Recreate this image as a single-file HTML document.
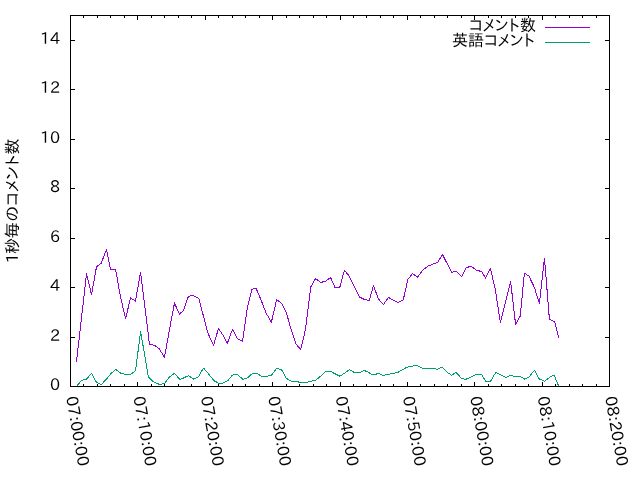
<!DOCTYPE html>
<html lang="ja"><head><meta charset="utf-8"><title>コメント数</title>
<style>
html,body{margin:0;padding:0;background:#fff;}
body{width:640px;height:480px;overflow:hidden;}
svg{display:block;}
svg text{font-family:"IPAPGothic","Liberation Sans","IPAGothic",sans-serif;font-size:16px;fill:#000;}
</style></head><body>
<svg width="640" height="480" viewBox="0 0 640 480">
<rect x="0" y="0" width="640" height="480" fill="#fff"/>
<g fill="#000" shape-rendering="crispEdges">
<rect x="70" y="15" width="540" height="1"/><rect x="70" y="386" width="540" height="1"/><rect x="70" y="15" width="1" height="372"/><rect x="609" y="15" width="1" height="372"/>
<rect x="70" y="386" width="5" height="1"/><rect x="605" y="386" width="5" height="1"/><rect x="70" y="337" width="5" height="1"/><rect x="605" y="337" width="5" height="1"/><rect x="70" y="287" width="5" height="1"/><rect x="605" y="287" width="5" height="1"/><rect x="70" y="238" width="5" height="1"/><rect x="605" y="238" width="5" height="1"/><rect x="70" y="188" width="5" height="1"/><rect x="605" y="188" width="5" height="1"/><rect x="70" y="139" width="5" height="1"/><rect x="605" y="139" width="5" height="1"/><rect x="70" y="89" width="5" height="1"/><rect x="605" y="89" width="5" height="1"/><rect x="70" y="40" width="5" height="1"/><rect x="605" y="40" width="5" height="1"/>
<rect x="70" y="382" width="1" height="5"/><rect x="70" y="15" width="1" height="5"/><rect x="83" y="384" width="1" height="3"/><rect x="83" y="15" width="1" height="3"/><rect x="97" y="384" width="1" height="3"/><rect x="97" y="15" width="1" height="3"/><rect x="110" y="384" width="1" height="3"/><rect x="110" y="15" width="1" height="3"/><rect x="124" y="384" width="1" height="3"/><rect x="124" y="15" width="1" height="3"/><rect x="137" y="382" width="1" height="5"/><rect x="137" y="15" width="1" height="5"/><rect x="151" y="384" width="1" height="3"/><rect x="151" y="15" width="1" height="3"/><rect x="164" y="384" width="1" height="3"/><rect x="164" y="15" width="1" height="3"/><rect x="178" y="384" width="1" height="3"/><rect x="178" y="15" width="1" height="3"/><rect x="191" y="384" width="1" height="3"/><rect x="191" y="15" width="1" height="3"/><rect x="205" y="382" width="1" height="5"/><rect x="205" y="15" width="1" height="5"/><rect x="218" y="384" width="1" height="3"/><rect x="218" y="15" width="1" height="3"/><rect x="232" y="384" width="1" height="3"/><rect x="232" y="15" width="1" height="3"/><rect x="245" y="384" width="1" height="3"/><rect x="245" y="15" width="1" height="3"/><rect x="259" y="384" width="1" height="3"/><rect x="259" y="15" width="1" height="3"/><rect x="272" y="382" width="1" height="5"/><rect x="272" y="15" width="1" height="5"/><rect x="286" y="384" width="1" height="3"/><rect x="286" y="15" width="1" height="3"/><rect x="299" y="384" width="1" height="3"/><rect x="299" y="15" width="1" height="3"/><rect x="313" y="384" width="1" height="3"/><rect x="313" y="15" width="1" height="3"/><rect x="326" y="384" width="1" height="3"/><rect x="326" y="15" width="1" height="3"/><rect x="340" y="382" width="1" height="5"/><rect x="340" y="15" width="1" height="5"/><rect x="353" y="384" width="1" height="3"/><rect x="353" y="15" width="1" height="3"/><rect x="366" y="384" width="1" height="3"/><rect x="366" y="15" width="1" height="3"/><rect x="380" y="384" width="1" height="3"/><rect x="380" y="15" width="1" height="3"/><rect x="393" y="384" width="1" height="3"/><rect x="393" y="15" width="1" height="3"/><rect x="407" y="382" width="1" height="5"/><rect x="407" y="15" width="1" height="5"/><rect x="420" y="384" width="1" height="3"/><rect x="420" y="15" width="1" height="3"/><rect x="434" y="384" width="1" height="3"/><rect x="434" y="15" width="1" height="3"/><rect x="447" y="384" width="1" height="3"/><rect x="447" y="15" width="1" height="3"/><rect x="461" y="384" width="1" height="3"/><rect x="461" y="15" width="1" height="3"/><rect x="474" y="382" width="1" height="5"/><rect x="474" y="15" width="1" height="5"/><rect x="488" y="384" width="1" height="3"/><rect x="488" y="15" width="1" height="3"/><rect x="501" y="384" width="1" height="3"/><rect x="501" y="15" width="1" height="3"/><rect x="515" y="384" width="1" height="3"/><rect x="515" y="15" width="1" height="3"/><rect x="528" y="384" width="1" height="3"/><rect x="528" y="15" width="1" height="3"/><rect x="542" y="382" width="1" height="5"/><rect x="542" y="15" width="1" height="5"/><rect x="555" y="384" width="1" height="3"/><rect x="555" y="15" width="1" height="3"/><rect x="569" y="384" width="1" height="3"/><rect x="569" y="15" width="1" height="3"/><rect x="582" y="384" width="1" height="3"/><rect x="582" y="15" width="1" height="3"/><rect x="596" y="384" width="1" height="3"/><rect x="596" y="15" width="1" height="3"/><rect x="609" y="382" width="1" height="5"/><rect x="609" y="15" width="1" height="5"/>
</g>
<g text-anchor="end">
<text x="60.2" y="390.05" textLength="10.08" lengthAdjust="spacingAndGlyphs">0</text><text x="60.2" y="341.05" textLength="10.08" lengthAdjust="spacingAndGlyphs">2</text><text x="60.2" y="291.05" textLength="10.08" lengthAdjust="spacingAndGlyphs">4</text><text x="60.2" y="242.05" textLength="10.08" lengthAdjust="spacingAndGlyphs">6</text><text x="60.2" y="192.05" textLength="10.08" lengthAdjust="spacingAndGlyphs">8</text><text x="60.2" y="143.05" textLength="20.16" lengthAdjust="spacingAndGlyphs">10</text><text x="60.2" y="93.05" textLength="20.16" lengthAdjust="spacingAndGlyphs">12</text><text x="60.2" y="44.05" textLength="20.16" lengthAdjust="spacingAndGlyphs">14</text>
</g>
<g>
<text transform="translate(65.9,397.3) rotate(80)" textLength="70.7" lengthAdjust="spacingAndGlyphs">07:00:00</text><text transform="translate(133.3,397.3) rotate(80)" textLength="70.7" lengthAdjust="spacingAndGlyphs">07:10:00</text><text transform="translate(200.7,397.3) rotate(80)" textLength="70.7" lengthAdjust="spacingAndGlyphs">07:20:00</text><text transform="translate(268.0,397.3) rotate(80)" textLength="70.7" lengthAdjust="spacingAndGlyphs">07:30:00</text><text transform="translate(335.4,397.3) rotate(80)" textLength="70.7" lengthAdjust="spacingAndGlyphs">07:40:00</text><text transform="translate(402.8,397.3) rotate(80)" textLength="70.7" lengthAdjust="spacingAndGlyphs">07:50:00</text><text transform="translate(470.1,397.3) rotate(80)" textLength="70.7" lengthAdjust="spacingAndGlyphs">08:00:00</text><text transform="translate(537.5,397.3) rotate(80)" textLength="70.7" lengthAdjust="spacingAndGlyphs">08:10:00</text><text transform="translate(604.9,397.3) rotate(80)" textLength="70.7" lengthAdjust="spacingAndGlyphs">08:20:00</text>
</g>
<text transform="translate(18,263.2) rotate(-90)" x="0 9.1 25 41.6 57.1 71 83.2 97.3 108.6">1秒毎のコメント数</text>
<text x="536" y="30.5" text-anchor="end" textLength="67.05" lengthAdjust="spacingAndGlyphs">コメント数</text>
<text x="535" y="46" text-anchor="end" textLength="83.05" lengthAdjust="spacingAndGlyphs">英語コメント</text>
<g shape-rendering="crispEdges"><rect x="545" y="27" width="45" height="1" fill="#9400d3"/><rect x="545" y="42" width="45" height="1" fill="#009e73"/></g>
<polyline points="76.5,361.8 86.5,274.0 91.5,294.5 96.5,266.9 101.3,263.1 106.5,249.4 110.6,269.4 115.6,269.4 120.6,297.5 125.6,318.5 130.6,297.8 135.4,301.2 140.6,272.2 149.5,344.4 154.5,345.2 159.1,348.8 164.5,357.2 169.4,330.0 174.5,303.0 179.5,314.2 183.8,310.0 188.3,296.6 192.8,295.2 198.8,298.4 207.9,333.1 213.5,345.4 218.5,328.5 222.9,335.0 227.3,343.4 232.5,329.4 237.4,338.8 242.5,341.2 247.2,308.5 252.0,289.5 256.0,288.1 261.0,299.8 266.0,312.9 271.4,322.2 276.6,299.8 281.6,303.2 286.3,312.4 291.2,329.8 296.0,344.1 300.7,349.5 305.4,329.8 310.7,287.0 315.6,278.5 320.6,282.5 325.6,281.2 330.6,277.5 334.8,287.2 339.8,287.2 344.4,270.2 348.8,275.6 359.4,296.9 364.4,299.4 369.3,300.4 373.5,285.6 378.4,299.0 383.5,304.4 388.5,297.5 392.9,300.0 397.9,302.5 403.2,300.0 407.9,279.4 412.5,273.5 417.5,277.2 422.9,270.0 427.9,266.2 432.2,264.4 437.7,262.3 442.5,254.4 451.6,272.5 456.0,271.2 461.6,276.5 466.0,267.8 471.0,266.2 476.2,270.0 481.6,271.6 485.6,278.1 490.4,268.5 495.3,289.5 500.4,322.5 510.6,281.2 515.6,324.5 520.2,316.2 524.4,273.1 529.0,276.2 534.4,287.5 539.4,303.4 544.5,258.1 549.4,319.2 554.9,322.2 558.8,338.0" fill="none" stroke="#9400d3" stroke-width="1" stroke-linejoin="round" shape-rendering="crispEdges"/>
<polyline points="77.2,385.6 81.5,380.4 86.5,379.1 91.5,373.4 96.5,382.5 101.2,384.6 106.2,379.4 110.6,374.0 115.6,369.4 120.6,373.1 125.6,374.4 130.6,374.4 135.6,370.6 140.6,331.2 148.3,376.8 151.9,380.6 153.8,381.9 159.4,384.4 164.4,383.5 169.4,376.9 174.4,373.4 179.8,379.4 183.8,377.9 188.5,375.6 193.5,379.1 198.5,376.6 203.5,368.1 208.5,373.8 213.8,380.6 218.5,383.1 222.9,383.1 227.9,380.6 232.2,375.2 237.0,374.1 242.9,379.4 247.2,378.1 252.5,373.4 256.6,373.4 261.6,376.2 267.2,376.2 271.6,375.0 276.6,368.4 281.6,369.6 286.0,378.1 291.0,381.2 296.2,381.2 300.0,382.5 306.9,382.5 310.6,381.2 315.6,380.2 320.6,376.2 325.6,371.2 330.2,371.2 335.0,373.8 339.8,376.2 344.8,373.1 349.4,369.6 354.4,372.5 359.8,372.5 364.0,370.3 368.8,372.5 371.9,374.4 375.6,374.4 378.1,373.4 383.1,375.4 388.1,374.4 393.1,373.4 397.5,372.5 401.9,370.2 406.9,367.2 411.9,366.2 416.5,365.2 422.5,368.4 434.0,368.4 437.2,369.4 442.1,367.1 447.5,372.5 451.5,375.2 456.2,372.5 461.2,378.1 465.6,379.4 471.2,376.9 476.9,374.1 481.5,374.1 485.6,381.2 490.6,381.2 495.7,372.5 500.7,374.8 505.7,377.5 510.3,375.2 514.8,376.5 519.8,376.5 524.8,379.1 529.1,376.9 534.5,370.2 539.1,378.8 544.5,381.2 549.8,377.2 554.1,375.2 558.5,385.6" fill="none" stroke="#009e73" stroke-width="1" stroke-linejoin="round" shape-rendering="crispEdges"/>
</svg>
</body></html>
